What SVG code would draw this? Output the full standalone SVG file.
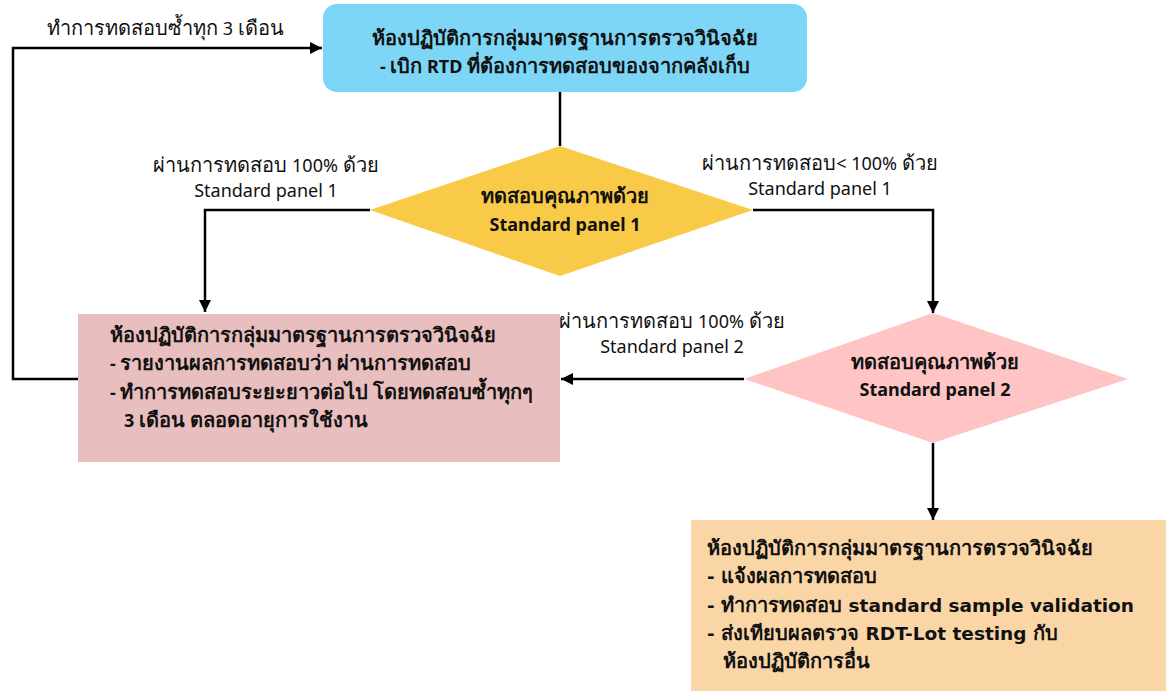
<svg xmlns="http://www.w3.org/2000/svg" width="1166" height="691" viewBox="0 0 1166 691">
<style>
text{font-family:"Noto Sans","Liberation Sans",sans-serif;font-size:20px;fill:#111;}
.l{font-size:18px;}
.w{font-family:"DejaVu Sans","Noto Sans",sans-serif;font-size:18.5px;}
.b{font-weight:bold;}
.c{text-anchor:middle;}
.edge{fill:none;stroke:#000;stroke-width:2.5;}
</style>
<defs>
<marker id="ah" viewBox="0 0 12 12" refX="12" refY="6" markerWidth="12" markerHeight="12" markerUnits="userSpaceOnUse" orient="auto">
<path d="M0,0 L12,6 L0,12 Z" fill="#000"/>
</marker>
</defs>
<rect width="1166" height="691" fill="#fff"/>
<g id="connectors">
<path class="edge" d="M560,92 L560,146"/>
<path class="edge" d="M370,210 L205,210 L205,312" marker-end="url(#ah)"/>
<path class="edge" d="M753,210 L933,210 L933,313" marker-end="url(#ah)"/>
<path class="edge" d="M744,379 L561,379" marker-end="url(#ah)"/>
<path class="edge" d="M933,443 L933,520" marker-end="url(#ah)"/>
<path class="edge" d="M78,379 L13,379 L13,48 L322,48" marker-end="url(#ah)"/>
<text x="47" y="35">ทำการทดสอบซ้ำทุก<tspan class="l"> 3 </tspan>เดือน</text>
<text class="c" x="266" y="172">ผ่านการทดสอบ<tspan class="l"> 100% </tspan>ด้วย</text>
<text class="c l" x="266" y="197">Standard panel 1</text>
<text class="c" x="820" y="170">ผ่านการทดสอบ<tspan class="l">&lt; 100% </tspan>ด้วย</text>
<text class="c l" x="820" y="195">Standard panel 1</text>
<text class="c" x="672" y="328">ผ่านการทดสอบ<tspan class="l"> 100% </tspan>ด้วย</text>
<text class="c l" x="672" y="353">Standard panel 2</text>
</g>
<g id="start">
<rect x="323" y="4" width="484" height="88" rx="14" fill="#7DD6F6"/>
<text class="b c" x="565" y="45">ห้องปฏิบัติการกลุ่มมาตรฐานการตรวจวินิจฉัย</text>
<text class="b c" x="565" y="73"><tspan class="l">- </tspan>เบิก<tspan class="l"> RTD </tspan>ที่ต้องการทดสอบของจากคลังเก็บ</text>
</g>
<g id="decision1">
<polygon points="560,146 753,210 560,276 370,210" fill="#F9CA47"/>
<text class="b c" x="565" y="203">ทดสอบคุณภาพด้วย</text>
<text class="b c l" x="565" y="231">Standard panel 1</text>
</g>
<g id="pass">
<rect x="78" y="314" width="482" height="148" fill="#E8BEBE"/>
<text class="b" x="110" y="342">ห้องปฏิบัติการกลุ่มมาตรฐานการตรวจวินิจฉัย</text>
<text class="b" x="110" y="370"><tspan class="l">- </tspan>รายงานผลการทดสอบว่า<tspan class="l"> </tspan>ผ่านการทดสอบ</text>
<text class="b" x="110" y="399"><tspan class="l">- </tspan>ทำการทดสอบระยะยาวต่อไป<tspan class="l"> </tspan>โดยทดสอบซ้ำทุกๆ</text>
<text class="b" x="124" y="427"><tspan class="l">3 </tspan>เดือน<tspan class="l"> </tspan>ตลอดอายุการใช้งาน</text>
</g>
<g id="decision2">
<polygon points="933,313 1128,379 933,443 744,379" fill="#FFC5C5"/>
<text class="b c" x="935" y="369">ทดสอบคุณภาพด้วย</text>
<text class="b c l" x="935" y="396">Standard panel 2</text>
</g>
<g id="fail">
<rect x="691" y="520" width="475" height="171" fill="#FAD6A6"/>
<text class="b" x="707" y="555">ห้องปฏิบัติการกลุ่มมาตรฐานการตรวจวินิจฉัย</text>
<text class="b" x="707" y="583"><tspan class="w">- </tspan>แจ้งผลการทดสอบ</text>
<text class="b" x="707" y="612"><tspan class="w">- </tspan>ทำการทดสอบ<tspan class="w"> standard sample validation</tspan></text>
<text class="b" x="707" y="640"><tspan class="w">- </tspan>ส่งเทียบผลตรวจ<tspan class="w"> RDT-Lot testing </tspan>กับ</text>
<text class="b" x="723" y="668">ห้องปฏิบัติการอื่น</text>
</g>
</svg>
